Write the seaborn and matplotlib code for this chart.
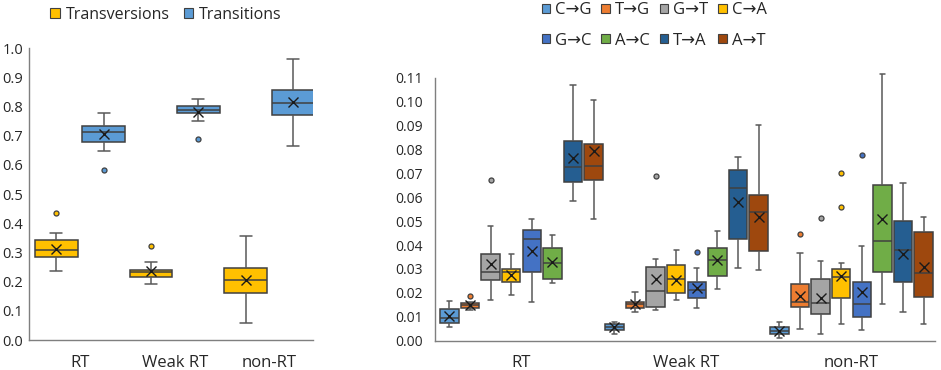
import numpy as np
import pandas as pd
import matplotlib
matplotlib.use("Agg")
import matplotlib.pyplot as plt
import seaborn as sns
from matplotlib.patches import Patch

# ---------------- data ----------------
groups = ["RT", "Weak RT", "non-RT"]

# Left panel: Transversions / Transitions (per group: RT, Weak RT, non-RT)
classes = ["Transversions", "Transitions"]
tv_lo = [0.238, 0.192, 0.057]
tv_q1 = [0.283, 0.215, 0.162]
tv_med = [0.309, 0.232, 0.206]
tv_q3 = [0.341, 0.241, 0.246]
tv_hi = [0.368, 0.266, 0.357]
tv_mean = [0.313, 0.238, 0.206]
ti_lo = [0.648, 0.750, 0.663]
ti_q1 = [0.677, 0.777, 0.771]
ti_med = [0.712, 0.786, 0.810]
ti_q3 = [0.734, 0.800, 0.856]
ti_hi = [0.779, 0.825, 0.962]
ti_mean = [0.705, 0.782, 0.814]
left_out_group = ["RT", "RT", "Weak RT", "Weak RT"]
left_out_class = ["Transversions", "Transitions", "Transversions", "Transitions"]
left_out_val = [0.434, 0.581, 0.323, 0.690]

# Right panel: 8 substitution types
muts = ["C→G", "T→G", "G→T", "C→A", "G→C", "A→C", "T→A", "A→T"]
rt_lo = [0.0059, 0.0128, 0.0170, 0.0191, 0.0163, 0.0240, 0.0586, 0.0508]
rt_q1 = [0.0075, 0.0138, 0.0254, 0.0244, 0.0289, 0.0257, 0.0662, 0.0671]
rt_med = [0.0096, 0.0148, 0.0286, 0.0289, 0.0424, 0.0326, 0.0725, 0.0731]
rt_q3 = [0.0131, 0.0156, 0.0363, 0.0298, 0.0462, 0.0386, 0.0835, 0.0821]
rt_hi = [0.0167, 0.0162, 0.0481, 0.0361, 0.0510, 0.0442, 0.1068, 0.1008]
rt_mean = [0.0103, 0.0148, 0.0321, 0.0275, 0.0374, 0.0328, 0.0763, 0.0794]

wk_lo = [0.0029, 0.0121, 0.0130, 0.0170, 0.0138, 0.0218, 0.0304, 0.0296]
wk_q1 = [0.0043, 0.0138, 0.0142, 0.0198, 0.0180, 0.0272, 0.0427, 0.0374]
wk_med = [0.0057, 0.0152, 0.0209, 0.0258, 0.0211, 0.0336, 0.0639, 0.0538]
wk_q3 = [0.0068, 0.0163, 0.0310, 0.0317, 0.0247, 0.0386, 0.0715, 0.0608]
wk_hi = [0.0078, 0.0202, 0.0343, 0.0378, 0.0303, 0.0459, 0.0768, 0.0904]
wk_mean = [0.0059, 0.0152, 0.0257, 0.0254, 0.0219, 0.0338, 0.0579, 0.0516]

nr_lo = [0.0013, 0.0050, 0.0029, 0.0068, 0.0045, 0.0152, 0.0121, 0.0071]
nr_q1 = [0.0026, 0.0142, 0.0110, 0.0177, 0.0099, 0.0286, 0.0244, 0.0184]
nr_med = [0.0042, 0.0160, 0.0156, 0.0265, 0.0152, 0.0416, 0.0379, 0.0282]
nr_q3 = [0.0057, 0.0237, 0.0257, 0.0300, 0.0244, 0.0651, 0.0499, 0.0453]
nr_hi = [0.0078, 0.0367, 0.0335, 0.0326, 0.0396, 0.1115, 0.0658, 0.0516]
nr_mean = [0.0040, 0.0187, 0.0179, 0.0271, 0.0202, 0.0510, 0.0364, 0.0308]

right_out_group = ["RT", "RT", "Weak RT", "Weak RT", "non-RT", "non-RT", "non-RT", "non-RT", "non-RT"]
right_out_mut = ["T→G", "G→T", "G→T", "G→C", "T→G", "G→T", "C→A", "C→A", "G→C"]
right_out_val = [0.0187, 0.0671, 0.0690, 0.0371, 0.0445, 0.0512, 0.0703, 0.0558, 0.0775]

left_colors = {"Transversions": "#FFC000", "Transitions": "#5B9BD5"}
mut_colors = {"C→G": "#5B9BD5", "T→G": "#ED7D31", "G→T": "#A5A5A5", "C→A": "#FFC000",
              "G→C": "#4472C4", "A→C": "#70AD47", "T→A": "#255E91", "A→T": "#9E480E"}

# ---------------- build tables ----------------
def long_table(stat_sets, levels, hue_name):
    rows = []
    for g in groups:
        for li, lev in enumerate(levels):
            for arr in stat_sets[g]:
                rows.append({"group": g, hue_name: lev, "value": arr[li]})
    return pd.DataFrame(rows)

left_sets = {}
for gi, g in enumerate(groups):
    left_sets[g] = [[tv_lo[gi], ti_lo[gi]], [tv_q1[gi], ti_q1[gi]], [tv_med[gi], ti_med[gi]],
                    [tv_q3[gi], ti_q3[gi]], [tv_hi[gi], ti_hi[gi]]]
left_df = long_table(left_sets, classes, "cls")
left_mean_df = pd.DataFrame(
    [{"group": g, "cls": c, "value": v}
     for c, arr in zip(classes, [tv_mean, ti_mean]) for g, v in zip(groups, arr)])
left_out_df = pd.DataFrame({"group": left_out_group, "cls": left_out_class, "value": left_out_val})

right_sets = {"RT": [rt_lo, rt_q1, rt_med, rt_q3, rt_hi],
              "Weak RT": [wk_lo, wk_q1, wk_med, wk_q3, wk_hi],
              "non-RT": [nr_lo, nr_q1, nr_med, nr_q3, nr_hi]}
right_df = long_table(right_sets, muts, "mut")
right_mean_df = pd.DataFrame(
    [{"group": g, "mut": m, "value": v}
     for g, arr in zip(groups, [rt_mean, wk_mean, nr_mean]) for m, v in zip(muts, arr)])
right_out_df = pd.DataFrame({"group": right_out_group, "mut": right_out_mut, "value": right_out_val})

# ---------------- style ----------------
sns.set_style("white")
plt.rcParams["font.family"] = ["Open Sans", "DejaVu Sans"]
EDGE = "#404040"
WHISK = "#595959"
TXT = "#262626"

fig = plt.figure(figsize=(9.41, 3.70), dpi=100)
axL = fig.add_axes([29 / 941, 30 / 370, 284 / 941, 292 / 370])
axR = fig.add_axes([435 / 941, 29.3 / 370, 500 / 941, 267.7 / 370])


def draw(ax, box_df, mean_df, out_df, hue, levels, palette):
    n = len(levels)
    box_w = (1.0 / n) * 0.9
    sns.boxplot(data=box_df, x="group", y="value", hue=hue, order=groups, hue_order=levels,
                palette=palette, saturation=1, width=1.0, gap=0.1, whis=(0, 100),
                showfliers=False, linecolor=EDGE, linewidth=1.1, legend=False, ax=ax,
                whiskerprops={"color": WHISK, "linewidth": 1.1},
                capprops={"color": WHISK, "linewidth": 1.1})
    # narrow the whisker caps (Excel style)
    for ln in ax.lines:
        xd = np.asarray(ln.get_xdata(), dtype=float)
        yd = np.asarray(ln.get_ydata(), dtype=float)
        if len(xd) == 2 and yd[0] == yd[1]:
            span = abs(xd[1] - xd[0])
            if 0.2 * box_w < span < 0.8 * box_w:
                c = xd.mean()
                ln.set_xdata([c - 0.14 * box_w, c + 0.14 * box_w])
    sns.pointplot(data=mean_df, x="group", y="value", hue=hue, order=groups, hue_order=levels,
                  palette={l: "#1a1a1a" for l in levels}, dodge=1 - 1 / n, markers="x",
                  linestyle="none", errorbar=None, markersize=7, markeredgewidth=1.0,
                  legend=False, ax=ax, zorder=6)
    od = out_df.copy()
    od["rank"] = od.groupby(["group", hue]).cumcount()
    for r in sorted(od["rank"].unique()):
        sub = od[od["rank"] == r]
        sns.pointplot(data=sub, x="group", y="value", hue=hue, order=groups, hue_order=levels,
                      palette=palette, dodge=1 - 1 / n, markers="o", linestyle="none",
                      errorbar=None, markersize=3.6, markeredgewidth=0.9,
                      markeredgecolor=EDGE, legend=False, ax=ax, zorder=6)
    ax.set_xlabel("")
    ax.set_ylabel("")
    for s in ["top", "right"]:
        ax.spines[s].set_visible(False)
    for s in ["left", "bottom"]:
        ax.spines[s].set_color("#7f7f7f")
        ax.spines[s].set_linewidth(1.0)


draw(axL, left_df, left_mean_df, left_out_df, "cls", classes, left_colors)
draw(axR, right_df, right_mean_df, right_out_df, "mut", muts, mut_colors)

axL.set_xlim(-0.54, 2.46)
axL.set_ylim(0, 1.0)
axL.set_yticks(np.arange(0, 1.01, 0.1))
axL.set_yticklabels([f"{v:.1f}" for v in np.arange(0, 1.01, 0.1)])
axL.tick_params(axis="y", length=0, pad=4, labelsize=10.5, labelcolor=TXT)
axL.tick_params(axis="x", length=0, pad=11, labelsize=12, labelcolor=TXT)

axR.set_xlim(-0.524, 2.506)
axR.set_ylim(0, 0.112)
axR.spines["left"].set_bounds(0, 0.11)
axR.set_yticks(np.arange(0, 0.1101, 0.01))
axR.set_yticklabels([f"{v:.2f}" for v in np.arange(0, 0.1101, 0.01)])
axR.tick_params(axis="y", length=0, pad=9, labelsize=10, labelcolor=TXT)
axR.tick_params(axis="x", length=0, pad=10, labelsize=12, labelcolor=TXT)

# legends
hL = [Patch(facecolor=left_colors[c], edgecolor=EDGE, linewidth=0.8, label=c) for c in classes]
fig.legend(handles=hL, loc="center", bbox_to_anchor=(166 / 941, 1 - 15 / 370), ncol=2,
           frameon=False, fontsize=11.5, handlelength=0.6, handleheight=0.6,
           handletextpad=0.35, columnspacing=0.9, labelcolor=TXT)

order = [0, 4, 1, 5, 2, 6, 3, 7]
hR = [Patch(facecolor=mut_colors[muts[i]], edgecolor=EDGE, linewidth=0.8, label=muts[i]) for i in order]
fig.legend(handles=hR, loc="center", bbox_to_anchor=(654 / 941, 1 - 25.5 / 370), ncol=4,
           frameon=False, fontsize=12, handlelength=0.5, handleheight=0.5,
           handletextpad=0.3, columnspacing=0.6, labelspacing=0.85, labelcolor=TXT)

fig.savefig("out.png", dpi=100)
